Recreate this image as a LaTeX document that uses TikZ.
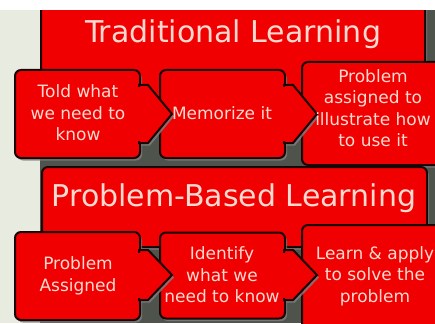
\documentclass[tikz,border=0pt]{standalone}
\usepackage{fontspec}
\setmainfont{DejaVu Sans}
\usetikzlibrary{shadows,calc}
\definecolor{boxred}{RGB}{240,0,0}
\definecolor{txt}{RGB}{252,218,208}
\definecolor{bgdark}{RGB}{78,84,76}
\definecolor{bglight}{RGB}{232,236,224}
\definecolor{edge}{RGB}{25,5,5}
\begin{document}
\begin{tikzpicture}[x=1pt,y=-1pt,
  redshape/.style={fill=boxred, draw=edge, line width=2pt,
    drop shadow={shadow xshift=2pt, shadow yshift=-2.5pt, opacity=0.8}},
  boxnode/.style={redshape, rounded corners=6pt, inner sep=0pt},
  patch/.style={fill=boxred},
  boxlabel/.style={text=txt, align=center, font=\fontsize{17}{21.5}\selectfont, inner sep=0pt},
  titlelabel/.style={text=txt, font=\fontsize{30}{36}\selectfont, inner sep=0pt, anchor=base}]
\useasboundingbox (0,0) rectangle (435,323);
\fill[bglight] (0,0) rectangle (435,323);
\fill[bgdark] (40,10) rectangle (435,323);
% ---------- Traditional Learning ----------
\node[boxnode, minimum width=384pt, minimum height=110pt] (title1) at (233,45) {};
\fill[white] (0,0) rectangle (435,10);
\node[titlelabel] (t1) at (233,43) {Traditional Learning};
\node[boxnode, minimum width=148pt, minimum height=103pt] (a3) at (376,113.5) {};
\node[boxnode, minimum width=125pt, minimum height=88pt] (a2) at (222.5,114) {};
\path[redshape] (284,85) -- (293,85) -- (317,114) -- (293,143) -- (284,143) -- cycle;
\fill[patch] (280,87.5) rectangle (291,140.5);
\node[boxnode, minimum width=125pt, minimum height=88pt] (a1) at (77.5,114) {};
\path[redshape] (139,85) -- (148,85) -- (172,114) -- (148,143) -- (139,143) -- cycle;
\fill[patch] (135,87.5) rectangle (146,140.5);
\node[boxlabel] (la1) at (78,113) {Told what\\we need to\\know};
\node[boxlabel] (la2) at (222,113) {Memorize it};
\node[boxlabel] (la3) at (373,108) {Problem\\assigned to\\illustrate how\\to use it};
% ---------- Problem-Based Learning ----------
\node[boxnode, minimum width=385pt, minimum height=80pt] (title2) at (234.5,207) {};
\node[titlelabel] (t2) at (234,206) {Problem-Based Learning};
\node[boxnode, minimum width=148pt, minimum height=105pt] (b3) at (376,277.5) {};
\node[boxnode, minimum width=125pt, minimum height=86pt] (b2) at (222.5,275.5) {};
\path[redshape] (284,250) -- (293,250) -- (317,275) -- (293,300) -- (284,300) -- cycle;
\fill[patch] (280,252.5) rectangle (291,297.5);
\node[boxnode, minimum width=125pt, minimum height=88pt] (b1) at (77.5,276) {};
\path[redshape] (139,250) -- (148,250) -- (172,275) -- (148,300) -- (139,300) -- cycle;
\fill[patch] (135,252.5) rectangle (146,297.5);
\node[boxlabel] (lb1) at (78,276) {Problem\\Assigned};
\node[boxlabel] (lb2) at (222,275) {Identify\\what we\\need to know};
\node[boxlabel] (lb3) at (375,276) {Learn \& apply\\to solve the\\problem};
\end{tikzpicture}
\end{document}
